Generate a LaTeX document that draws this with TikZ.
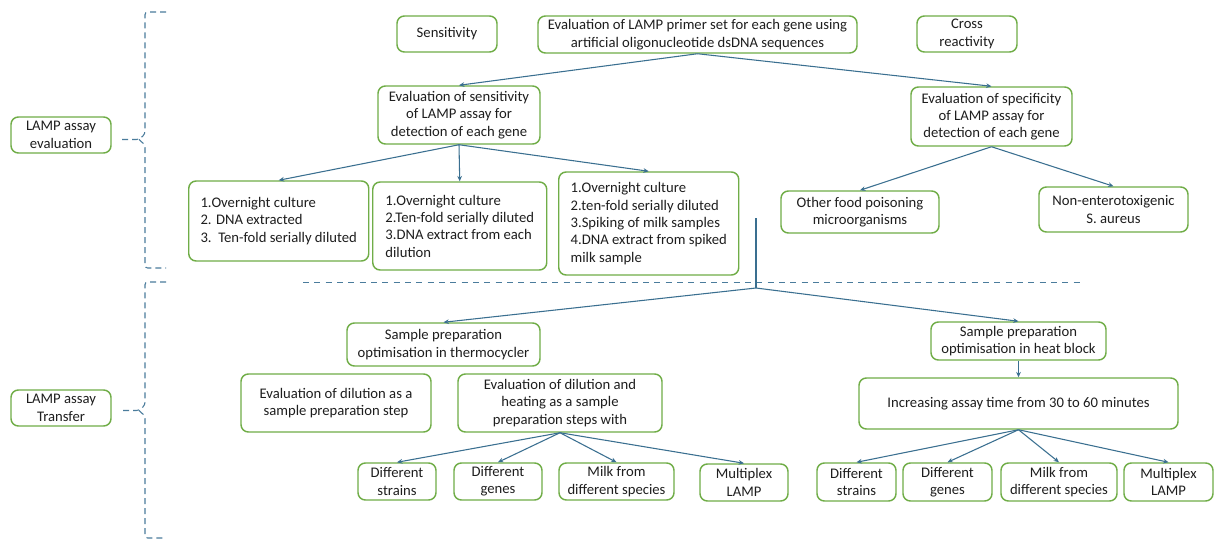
\documentclass[tikz,border=0pt]{standalone}
\usepackage{fontspec}
\setmainfont{Carlito}
\usetikzlibrary{arrows.meta}
\definecolor{bgreen}{HTML}{70AD47}
\definecolor{ablue}{HTML}{3A6F90}
\definecolor{dblue}{HTML}{4A7C9C}
\definecolor{txt}{HTML}{1E1E1E}
\begin{document}
\begin{tikzpicture}[x=0.75pt,y=-0.75pt,
  box/.style={draw=bgreen,line width=1.1pt,rounded corners=5.5pt,fill=white,
    text=txt,align=center,inner sep=2pt,
    font=\fontsize{11pt}{13pt}\selectfont},
  lbox/.style={box,align=left,inner xsep=7pt,anchor=west},
  arr/.style={draw=ablue,line width=0.8pt,-{Stealth[length=4pt,width=3.5pt]}},
  ln/.style={draw=ablue,line width=0.8pt},
  brace/.style={draw=dblue,line width=0.8pt,dash pattern=on 4.5pt off 3pt,rounded corners=2pt}]
\useasboundingbox (0,0) rectangle (1215,540);
\fill[white] (0,0) rectangle (1215,540);
\newcommand{\bx}[6]{\node[box,minimum width=#4*0.75pt,minimum height=#5*0.75pt] (#1) at (#2,#3) {#6};}
% left labels
\bx{eval}{61}{135}{100}{36}{LAMP assay\\evaluation}
\bx{transfer}{61}{408}{100}{36}{LAMP assay\\Transfer}
% braces
\draw[brace] (166,12) -- (145,12) -- (145,134) -- (139,139.5) -- (120,139.5);
\draw[brace] (139,139.5) -- (145,145) -- (145,268) -- (166,268);
\draw[brace] (166,282) -- (145,282) -- (145,405) -- (139,410.5) -- (120,410.5);
\draw[brace] (139,410.5) -- (145,416) -- (145,538) -- (166,538);
% separator
\draw[draw=dblue,line width=0.6pt,dash pattern=on 4.5pt off 4pt] (303,282) -- (1083,282);
% top row
\bx{sens}{447}{34}{100}{36}{Sensitivity}
\bx{top}{697.5}{34.5}{319}{37}{Evaluation of LAMP primer set for each gene using\\artificial oligonucleotide dsDNA sequences}
\bx{cross}{967}{34}{100}{36}{Cross\\reactivity}
\bx{esens}{459}{115}{162}{58}{Evaluation of sensitivity\\of LAMP assay for\\detection of each gene}
\bx{espec}{991.5}{116.5}{161}{59}{Evaluation of specificity\\of LAMP assay for\\detection of each gene}
% second row
\node[lbox,minimum width=180*0.75pt,minimum height=80*0.75pt] (A) at (188,221) {1.Overnight culture\\2. DNA extracted\\3.\ \ Ten-fold serially diluted};
\node[lbox,minimum width=174*0.75pt,minimum height=88*0.75pt] (B) at (372,226) {1.Overnight culture\\2.Ten-fold serially diluted\\3.DNA extract from each\\dilution};
\node[lbox,minimum width=180*0.75pt,minimum height=103*0.75pt] (C) at (558,223.5) {1.Overnight culture\\2.ten-fold serially diluted\\3.Spiking of milk samples\\4.DNA extract from spiked\\milk sample};
\bx{other}{860}{212}{158}{42}{Other food poisoning\\microorganisms}
\bx{nonent}{1113.5}{209.5}{149}{45}{Non-enterotoxigenic\\S. aureus}
% bottom part
\bx{thermo}{443.5}{344.5}{193}{43}{Sample preparation\\optimisation in thermocycler}
\bx{dil}{336}{403}{190}{58}{Evaluation of dilution as a\\sample preparation step}
\bx{dilheat}{560}{403}{204}{58}{Evaluation of dilution and\\heating as a sample\\preparation steps with}
\bx{heat}{1018.5}{341}{175}{38}{Sample preparation\\optimisation in heat block}
\bx{incr}{1018.5}{403.5}{319}{51}{Increasing assay time from 30 to 60 minutes}
\bx{Lstr}{397}{481.5}{78}{37}{Different\\strains}
\bx{Lgen}{498}{481.5}{88}{37}{Different\\genes}
\bx{Lmilk}{616.5}{481.5}{115}{37}{Milk from\\different species}
\bx{Lmul}{744}{482.5}{88}{37}{Multiplex\\LAMP}
\bx{Rstr}{856.5}{482}{79}{38}{Different\\strains}
\bx{Rgen}{947.5}{482}{89}{38}{Different\\genes}
\bx{Rmilk}{1059}{482}{116}{38}{Milk from\\different species}
\bx{Rmul}{1168.5}{482}{89}{38}{Multiplex\\LAMP}
% connectors
\draw[arr] (top.south) -- (esens.north);
\draw[arr] (top.south) -- (espec.north);
\draw[arr] (esens.south) -- (A.north);
\draw[arr] (esens.south) -- (B.north);
\draw[arr] (esens.south) -- (C.north);
\draw[arr] (espec.south) -- (other.north);
\draw[arr] (espec.south) -- (nonent.north);
\coordinate (vtop) at (756,218);
\coordinate (vj) at (756,288);
\draw[ln] (vtop) -- (vj);
\draw[arr] (vj) -- (thermo.north);
\draw[arr] (vj) -- (heat.north);
\draw[arr] (heat.south) -- (incr.north);
\foreach \t in {Lstr,Lgen,Lmilk,Lmul} \draw[arr] (dilheat.south) -- (\t.north);
\foreach \t in {Rstr,Rgen,Rmilk,Rmul} \draw[arr] (incr.south) -- (\t.north);
\end{tikzpicture}
\end{document}
